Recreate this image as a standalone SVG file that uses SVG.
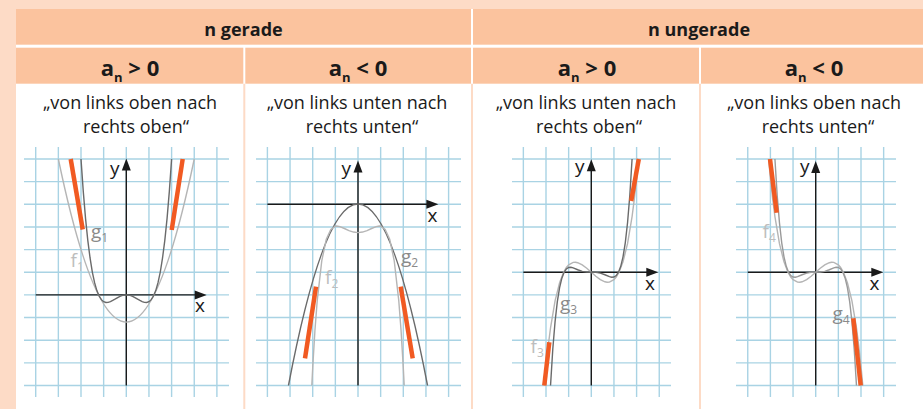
<svg xmlns="http://www.w3.org/2000/svg" width="923" height="409" viewBox="0 0 923 409">
<style>
.bg{fill:#fddbc6}
.hdr{fill:#fbc39e}
.body{fill:#ffffff}
.div{stroke:#fddbc6;stroke-width:2}
.grid{stroke:#a9d3e4;stroke-width:1.4;fill:none}
.axis{stroke:#1a1a1a;stroke-width:1.4;fill:none}
.head{fill:#1a1a1a}
.cd{stroke:#6a6a6a;stroke-width:1.4;fill:none;vector-effect:non-scaling-stroke}
.cl{stroke:#b5b5b5;stroke-width:1.4;fill:none;vector-effect:non-scaling-stroke}
.mark{stroke:#f15a22;stroke-width:4.5;fill:none}
.h1{font-family:"Open Sans","Noto Sans",sans-serif;font-weight:700;font-size:18px;fill:#1a1a1a;text-anchor:middle}
.h2{font-family:"Open Sans","Noto Sans",sans-serif;font-weight:700;font-size:22px;fill:#1a1a1a;text-anchor:middle}
.st{font-family:"Open Sans","Noto Sans",sans-serif;font-size:18px;fill:#1a1a1a;text-anchor:middle}
.ax{font-family:"Open Sans","Noto Sans",sans-serif;font-size:19px;fill:#1a1a1a}
.lg{font-family:"Open Sans","Noto Sans",sans-serif;font-size:19px;fill:#8a8a8a}
.lf{font-family:"Open Sans","Noto Sans",sans-serif;font-size:19px;fill:#bdbdbd}
</style>
<defs>
<path id="arrUp" d="M0,0 L-4.5,12 L4.5,12 Z" class="head"/>
<path id="arrRt" d="M0,0 L-12,-4.5 L-12,4.5 Z" class="head"/>
</defs>

<g id="frame">
<rect class="bg" x="0" y="0" width="923" height="409"/>
<rect class="body" x="16" y="9" width="907" height="400"/>
<rect class="hdr" x="16" y="9" width="455" height="35.7"/>
<rect class="hdr" x="473" y="9" width="450" height="35.7"/>
<rect class="hdr" x="16" y="47.7" width="227.3" height="36"/>
<rect class="hdr" x="245.3" y="47.7" width="225.7" height="36"/>
<rect class="hdr" x="473" y="47.7" width="226" height="36"/>
<rect class="hdr" x="701" y="47.7" width="222" height="36"/>
<line class="div" x1="244.3" y1="83.7" x2="244.3" y2="409"/>
<line class="div" x1="472" y1="83.7" x2="472" y2="409"/>
<line class="div" x1="700" y1="83.7" x2="700" y2="409"/>
</g>

<g id="headers">
<text class="h1" x="243.5" y="36">n gerade</text>
<text class="h1" x="699" y="36">n ungerade</text>
<text class="h2" x="130" y="75.5">a<tspan font-size="13" dy="6">n</tspan><tspan dy="-6"> &gt; 0</tspan></text>
<text class="h2" x="358" y="75.5">a<tspan font-size="13" dy="6">n</tspan><tspan dy="-6"> &lt; 0</tspan></text>
<text class="h2" x="587" y="75.5">a<tspan font-size="13" dy="6">n</tspan><tspan dy="-6"> &gt; 0</tspan></text>
<text class="h2" x="814" y="75.5">a<tspan font-size="13" dy="6">n</tspan><tspan dy="-6"> &lt; 0</tspan></text>
<text class="st" x="130" y="108.5">„von links oben nach</text>
<text class="st" x="136" y="133">rechts oben“</text>
<text class="st" x="357" y="108.5">„von links unten nach</text>
<text class="st" x="362" y="133">rechts unten“</text>
<text class="st" x="586" y="108.5">„von links unten nach</text>
<text class="st" x="589" y="133">rechts oben“</text>
<text class="st" x="814" y="108.5">„von links oben nach</text>
<text class="st" x="818" y="133">rechts unten“</text>
</g>

<g id="panel1">
<path class="grid" d="M24 159H229M24 181.65H229M24 204.3H229M24 226.95H229M24 249.6H229M24 272.25H229M24 294.9H229M24 317.55H229M24 340.2H229M24 362.85H229M24 385.5H229M35.7 147V397M58.35 147V397M81 147V397M103.65 147V397M126.3 147V397M148.95 147V397M171.6 147V397M194.25 147V397M216.9 147V397"/>
<line class="axis" x1="35.7" y1="294.9" x2="196" y2="294.9"/>
<line class="axis" x1="126.3" y1="385.5" x2="126.3" y2="168"/>
<use href="#arrRt" x="206.7" y="294.9"/>
<use href="#arrUp" x="126.3" y="158.5"/>
<g transform="translate(126.3,294.9) scale(22.65,-22.65)">
<path class="cl" d="M-3,6 Q0,-8.4 3,6"/>
<polyline class="cd" points="-2,6 -1.9,4.57 -1.8,3.38 -1.7,2.41 -1.6,1.63 -1.5,1.01 -1.4,0.54 -1.3,0.19 -1.2,-0.05 -1.1,-0.21 -1,-0.3 -0.9,-0.335 -0.8,-0.33 -0.7,-0.297 -0.6,-0.246 -0.5,-0.19 -0.4,-0.129 -0.3,-0.076 -0.2,-0.035 -0.1,-0.009 0,0 0.1,-0.009 0.2,-0.035 0.3,-0.076 0.4,-0.129 0.5,-0.19 0.6,-0.246 0.7,-0.297 0.8,-0.33 0.9,-0.335 1,-0.3 1.1,-0.21 1.2,-0.05 1.3,0.19 1.4,0.54 1.5,1.01 1.6,1.63 1.7,2.41 1.8,3.38 1.9,4.57 2,6"/>
</g>
<line class="mark" x1="70.7" y1="159" x2="82.7" y2="229.5"/>
<line class="mark" x1="182.7" y1="159" x2="171.7" y2="230"/>
<text class="ax" x="110" y="175">y</text>
<text class="ax" x="195" y="311.5">x</text>
<text class="lg" x="91" y="237.5">g<tspan font-size="12" dy="4">1</tspan></text>
<text class="lf" x="70.5" y="266.5">f<tspan font-size="12" dy="4">1</tspan></text>
</g>

<g id="panel2">
<path class="grid" d="M256 159H461M256 181.65H461M256 204.3H461M256 226.95H461M256 249.6H461M256 272.25H461M256 294.9H461M256 317.55H461M256 340.2H461M256 362.85H461M256 385.5H461M267.4 147V397M290.05 147V397M312.7 147V397M335.35 147V397M358 147V397M380.65 147V397M403.3 147V397M425.95 147V397M448.6 147V397"/>
<line class="axis" x1="267.4" y1="204.3" x2="428" y2="204.3"/>
<line class="axis" x1="358" y1="385.5" x2="358" y2="170"/>
<use href="#arrRt" x="438.4" y="204.3"/>
<use href="#arrUp" x="358" y="160.5"/>
<g transform="translate(358,204.3) scale(22.65,-22.65)">
<path class="cd" d="M-3.07,-8 Q0,8.02 3.07,-8"/>
<polyline class="cl" points="-2.04,-8 -2,-7.22 -1.9,-5.553 -1.8,-4.251 -1.6,-2.495 -1.4,-1.545 -1.2,-1.106 -1,-0.966 -0.94,-0.96 -0.8,-0.985 -0.6,-1.069 -0.4,-1.16 -0.2,-1.226 0,-1.25 0.2,-1.226 0.4,-1.16 0.6,-1.069 0.8,-0.985 0.94,-0.96 1,-0.966 1.2,-1.106 1.4,-1.545 1.6,-2.495 1.8,-4.251 1.9,-5.553 2,-7.22 2.04,-8"/>
</g>
<line class="mark" x1="316" y1="286.7" x2="305" y2="358.3"/>
<line class="mark" x1="400.7" y1="286.7" x2="412.7" y2="358.3"/>
<text class="ax" x="341.5" y="175">y</text>
<text class="ax" x="427.5" y="221.5">x</text>
<text class="lg" x="401" y="262.5">g<tspan font-size="12" dy="4">2</tspan></text>
<text class="lf" x="325" y="284">f<tspan font-size="12" dy="4">2</tspan></text>
</g>

<g id="panel3">
<path class="grid" d="M512 159H671M512 181.65H671M512 204.3H671M512 226.95H671M512 249.6H671M512 272.25H671M512 294.9H671M512 317.55H671M512 340.2H671M512 362.85H671M512 385.5H671M523.35 147V397M546 147V397M568.65 147V397M591.3 147V397M613.95 147V397M636.6 147V397M659.25 147V397"/>
<line class="axis" x1="523.35" y1="272.25" x2="648" y2="272.25"/>
<line class="axis" x1="591.3" y1="385.5" x2="591.3" y2="169"/>
<use href="#arrRt" x="658.3" y="272.25"/>
<use href="#arrUp" x="591.3" y="159.3"/>
<g transform="translate(591.3,272.25) scale(22.65,-22.65)">
<polyline class="cl" points="-2.08,-5 -2,-4.151 -1.9,-3.236 -1.8,-2.459 -1.6,-1.263 -1.4,-0.457 -1.2247,0 -1.1,0.212 -1,0.326 -0.8,0.434 -0.7,0.44 -0.6,0.42 -0.4,0.323 -0.2,0.174 0,0 0.2,-0.174 0.4,-0.323 0.6,-0.42 0.7,-0.44 0.8,-0.434 1,-0.326 1.1,-0.212 1.2247,0 1.4,0.457 1.6,1.263 1.8,2.459 1.9,3.236 2,4.151 2.08,5"/>
<polyline class="cd" points="-1.8,-5 -1.7,-3.391 -1.6,-2.184 -1.5,-1.301 -1.4,-0.679 -1.3,-0.261 -1.2,0 -1.1,0.146 -1,0.209 -0.9,0.22 -0.8,0.195 -0.6,0.111 -0.4,0.039 -0.2,0.005 0,0 0.2,-0.005 0.4,-0.039 0.6,-0.111 0.8,-0.195 0.9,-0.22 1,-0.209 1.1,-0.146 1.2,0 1.3,0.261 1.4,0.679 1.5,1.301 1.6,2.184 1.7,3.391 1.8,5"/>
</g>
<line class="mark" x1="638.8" y1="159" x2="631.2" y2="201"/>
<line class="mark" x1="549.3" y1="342.3" x2="544.3" y2="385.5"/>
<text class="ax" x="575" y="173">y</text>
<text class="ax" x="645" y="290">x</text>
<text class="lg" x="560" y="310">g<tspan font-size="12" dy="4">3</tspan></text>
<text class="lf" x="530.5" y="352.5">f<tspan font-size="12" dy="4">3</tspan></text>
</g>

<g id="panel4">
<path class="grid" d="M736 159H896M736 181.65H896M736 204.3H896M736 226.95H896M736 249.6H896M736 272.25H896M736 294.9H896M736 317.55H896M736 340.2H896M736 362.85H896M736 385.5H896M747.75 147V397M770.4 147V397M793.05 147V397M815.7 147V397M838.35 147V397M861 147V397M883.65 147V397"/>
<line class="axis" x1="747.75" y1="272.25" x2="873" y2="272.25"/>
<line class="axis" x1="815.7" y1="385.5" x2="815.7" y2="171"/>
<use href="#arrRt" x="883.3" y="272.25"/>
<use href="#arrUp" x="815.7" y="161"/>
<g transform="translate(815.7,272.25) scale(22.65,22.65)">
<polyline class="cl" points="-2.08,-5 -2,-4.151 -1.9,-3.236 -1.8,-2.459 -1.6,-1.263 -1.4,-0.457 -1.2247,0 -1.1,0.212 -1,0.326 -0.8,0.434 -0.7,0.44 -0.6,0.42 -0.4,0.323 -0.2,0.174 0,0 0.2,-0.174 0.4,-0.323 0.6,-0.42 0.7,-0.44 0.8,-0.434 1,-0.326 1.1,-0.212 1.2247,0 1.4,0.457 1.6,1.263 1.8,2.459 1.9,3.236 2,4.151 2.08,5"/>
<polyline class="cl" style="stroke:#9a9a9a" points="-1.8,-5 -1.7,-3.391 -1.6,-2.184 -1.5,-1.301 -1.4,-0.679 -1.3,-0.261 -1.2,0 -1.1,0.146 -1,0.209 -0.9,0.22 -0.8,0.195 -0.6,0.111 -0.4,0.039 -0.2,0.005 0,0 0.2,-0.005 0.4,-0.039 0.6,-0.111 0.8,-0.195 0.9,-0.22 1,-0.209 1.1,-0.146 1.2,0 1.3,0.261 1.4,0.679 1.5,1.301 1.6,2.184 1.7,3.391 1.8,5"/>
</g>
<line class="mark" x1="770" y1="159" x2="776.7" y2="212.7"/>
<line class="mark" x1="853.3" y1="318.3" x2="860.7" y2="385.5"/>
<text class="ax" x="800" y="173">y</text>
<text class="ax" x="869.5" y="290">x</text>
<text class="lf" x="762.5" y="237.5">f<tspan font-size="12" dy="4">4</tspan></text>
<text class="lg" x="832.5" y="320">g<tspan font-size="12" dy="4">4</tspan></text>
</g>
<g id="connectors"/>
</svg>
